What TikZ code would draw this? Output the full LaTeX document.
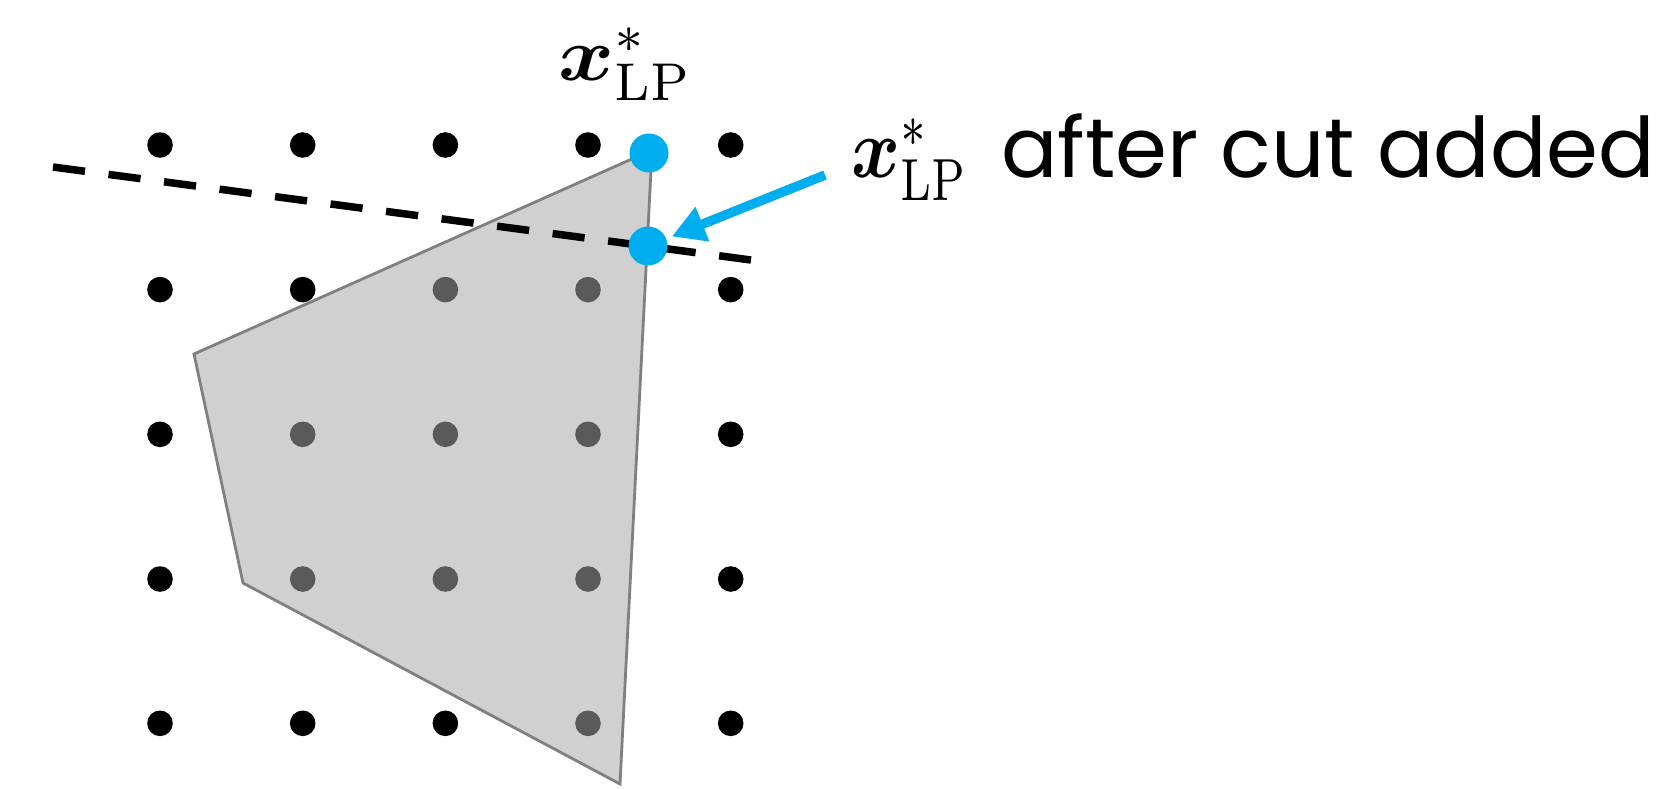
\documentclass[tikz,border=0pt]{standalone}
\usepackage{fontspec}
\usepackage{amsmath,bm}
\newfontfamily\labelfont{Poppins}
\usetikzlibrary{arrows.meta}
\definecolor{lpblue}{RGB}{0,174,239}
\definecolor{edgegray}{RGB}{128,128,128}
\definecolor{regionfill}{RGB}{168,168,168}
\newcommand{\lpsym}{$\scalebox{1.18}[1]{$\bm{x}$}^*_{\mathrm{LP}}$}
\tikzset{
  gridpt/.style={fill=black},
  region/.style={fill=regionfill, fill opacity=0.537},
  regionedge/.style={draw=edgegray, line width=2.8pt, line join=miter},
  cutline/.style={line width=7.5pt, dash pattern=on 32.3pt off 23.7pt},
  lpdot/.style={circle, fill=lpblue, inner sep=0pt, minimum size=39pt},
  pointer/.style={draw=lpblue, line width=9.5pt, -{Triangle[length=33pt,width=35pt]}, shorten >=6pt},
  mathlabel/.style={anchor=base west, inner sep=0pt},
}
\begin{document}
\begin{tikzpicture}[x=1pt,y=-1pt]
\useasboundingbox (0,0) rectangle (1656,788);
% lattice points
\foreach \cx in {160,302.7,445.4,588,730.7}{
  \foreach \cy in {145,289.6,434.3,579,723.3}{
    \fill[gridpt] (\cx,\cy) circle (12.8pt);
  }
}
% feasible region
\fill[region] (652,150) -- (194,354) -- (243,583) -- (620,784) -- cycle;
\draw[regionedge] (652,150) -- (194,354) -- (243,583) -- (620,784) -- cycle;
% cut
\coordinate (cutA) at (53,167);
\coordinate (cutB) at (751,260);
\draw[cutline] (cutA) -- (cutB);
% LP optima
\node[lpdot] (lp1) at (649,153) {};
\node[lpdot] (lp2) at (648,246) {};
% labels
\node[mathlabel, xscale=7.2, yscale=7.6] (lbl1) at (557,80) {\lpsym};
\node[mathlabel, xscale=6.3, yscale=8.5] (lbl2) at (850,177) {\lpsym};
\node[anchor=base west, inner sep=0pt] (cuttxt) at (1001,177) {\labelfont\fontsize{83.5}{88}\selectfont after cut added};
% pointer
\coordinate (ptrstart) at (825,175);
\draw[pointer] (ptrstart) -- (lp2);
\end{tikzpicture}
\end{document}
